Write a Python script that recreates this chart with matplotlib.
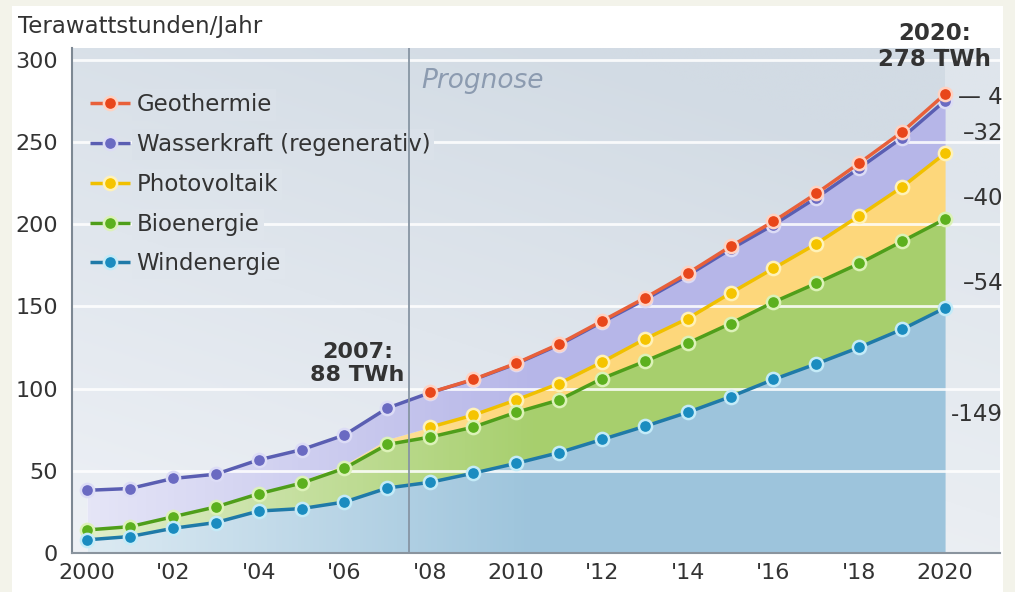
import numpy as np
import matplotlib
matplotlib.use("Agg")
import matplotlib.pyplot as plt
from matplotlib.colors import to_rgb
from matplotlib.patches import Rectangle, Polygon

# ---------------- data ----------------
years = list(range(2000, 2021))
wind = [8, 10, 15, 18.5, 25.5, 27, 31, 39.5, 43, 48.5, 54.5, 61, 69, 77, 85.5, 95, 105.5, 115, 125, 136, 149]
bio = [6, 6, 7, 9.5, 10.5, 15.5, 20.5, 26.5, 27.5, 28, 31, 32, 37, 39.5, 42, 44.5, 47, 49, 51, 53.5, 54]
pv = [0.1, 0.2, 0.3, 0.4, 0.6, 1.3, 2.2, 3.1, 6, 7.3, 7.5, 10, 10, 13.5, 15, 18.5, 20.5, 24, 29, 33, 40]
hydro = [24, 23, 23, 19.5, 20, 19, 18, 19, 21, 21.5, 22, 23.5, 24.3, 24, 26.2, 26.7, 26.5, 28, 29, 30, 32]
geo = [0, 0, 0, 0, 0, 0, 0, 0, 0.1, 0.2, 0.3, 0.5, 0.7, 1.0, 1.3, 1.7, 2.1, 2.6, 3.0, 3.5, 4]

series_names = ["Windenergie", "Bioenergie", "Photovoltaik", "Wasserkraft (regenerativ)", "Geothermie"]
xtick_years = [2000, 2002, 2004, 2006, 2008, 2010, 2012, 2014, 2016, 2018, 2020]
xtick_labels = ["2000", "'02", "'04", "'06", "'08", "2010", "'12", "'14", "'16", "'18", "2020"]
yticks = [0, 50, 100, 150, 200, 250, 300]
final_values = [149, 54, 40, 32, 4]   # labels at right (wind, bio, pv, hydro, geo)
total_2007 = 88
total_2020 = 278
forecast_start = 2007.5
first_line_year = [2000, 2000, 2008, 2000, 2008]   # first year each line is drawn

# ---------------- styling ----------------
fill_colors = ["#9dc4dc", "#a7cf6d", "#fdd77b", "#b6b6e8", None]
line_colors = ["#1f7aa8", "#4f9e1a", "#f0c000", "#5a5eb2", "#e8603a"]
marker_colors = ["#1a8cc0", "#5cb01e", "#f5c400", "#6a6ac2", "#e8461a"]
halo_colors = ["#c4ebf8", "#dcf2b8", "#fff2b8", "#dcdcf6", "#ffd2c2"]
zorders = [5.0, 4.5, 4.0, 3.0, 3.5]
txt_col = "#333333"
c_top = np.array(to_rgb("#d2dbe4"))
c_bot = np.array(to_rgb("#eef1f6"))


def bg_color(xf, yf):
    t = np.clip(0.75 * yf + 0.45 * xf, 0, 1)
    return c_bot * (1 - t)[..., None] + c_top * t[..., None] if np.ndim(t) else c_bot * (1 - t) + c_top * t


fig = plt.figure(figsize=(10.15, 5.92), dpi=100)
fig.patch.set_facecolor("#f3f3ea")
fig.patches.append(Rectangle((12 / 1015, 0), (1003 - 12) / 1015, 1 - 6 / 592,
                             transform=fig.transFigure, facecolor="white",
                             edgecolor="none", zorder=-5))

ax = fig.add_axes([72 / 1015, 39 / 592, 928 / 1015, 505 / 592])
ax.set_zorder(1)
xmin, xmax, ymin, ymax = 1999.65, 2021.28, 0, 307

# background gradient
H, W = 200, 400
yy = np.linspace(0, 1, H)[:, None] * np.ones((1, W))
xx = np.linspace(0, 1, W)[None, :] * np.ones((H, 1))
bg = bg_color(xx, yy)
ax.imshow(bg, extent=[xmin, xmax, ymin, ymax], origin="lower", aspect="auto", zorder=0)
ax.axvspan(2020, xmax, color="white", alpha=0.3, lw=0, zorder=0.5)

# stacked fills
stack = [wind, bio, pv, hydro, geo]
base = np.zeros(len(years))
tops = []
for vals, fc in zip(stack, fill_colors):
    top = base + np.array(vals, dtype=float)
    if fc is not None:
        ax.fill_between(years, base, top, color=fc, lw=0, zorder=1)
    tops.append(top)
    base = top

# whitish overlay on the historical part of the stack
ov = np.ones((2, 300, 4))
xs = np.linspace(xmin, xmax, 300)
ov[..., 3] = np.clip(0.65 * (2010.5 - xs) / (2010.5 - 2000), 0, 0.7)[None, :]
ov_im = ax.imshow(ov, extent=[xmin, xmax, ymin, ymax], origin="lower", aspect="auto", zorder=1.5)
poly_pts = [(y, 0) for y in years] + [(y, v) for y, v in zip(years[::-1], tops[3][::-1])]
clip_poly = Polygon(poly_pts, closed=True, transform=ax.transData, facecolor="none", edgecolor="none")
ax.add_patch(clip_poly)
ov_im.set_clip_path(clip_poly)

# grid lines
for yv in yticks[1:]:
    ax.axhline(yv, color="white", lw=2, alpha=0.85, zorder=2)

# lines with markers
handles = []
yrs_all = np.array(years)
for i, (name, top) in enumerate(zip(series_names, tops)):
    mask = yrs_all >= first_line_year[i]
    h, = ax.plot(yrs_all[mask], top[mask], color=line_colors[i], lw=2.5, marker="o", ms=9.5,
                 mfc=marker_colors[i], mec=halo_colors[i], mew=1.8, zorder=zorders[i],
                 label=name, solid_capstyle="butt")
    handles.append(h)

leg = ax.legend(handles[::-1], series_names[::-1], loc="upper left",
                bbox_to_anchor=(0.019, 0.91), frameon=False, fontsize=16.5,
                handlelength=1.75, handletextpad=0.3, labelspacing=0.73,
                borderaxespad=0, borderpad=0)
leg.set_zorder(5.2)

# forecast separator (drawn above legend text boxes)
ax.axvline(forecast_start, color="#8795a3", lw=1.3, zorder=5.5)

# axes formatting
ax.set_xlim(xmin, xmax)
ax.set_ylim(ymin, ymax)
ax.set_xticks(xtick_years)
ax.set_xticklabels(xtick_labels)
ax.set_yticks(yticks)
ax.set_yticklabels([str(v) for v in yticks])
ax.tick_params(axis="both", length=0, labelsize=16, colors=txt_col)
ax.tick_params(axis="x", pad=7)
ax.tick_params(axis="y", pad=10)
for s in ["top", "right"]:
    ax.spines[s].set_visible(False)
ax.spines["left"].set_color("#7d8893")
ax.spines["left"].set_linewidth(1.5)
ax.spines["bottom"].set_color("#8a949e")
ax.spines["bottom"].set_linewidth(1.5)

# legend texts hide grid lines behind them, using the local background colour
fig.canvas.draw()
inv = ax.transAxes.inverted()
for tx in leg.get_texts():
    tx.set_color(txt_col)
    bb = tx.get_window_extent()
    (x0, y0), (x1, y1) = inv.transform([(bb.x0, bb.y0), (bb.x1, bb.y1)])
    col = bg_color(np.array((x0 + x1) / 2), np.array((y0 + y1) / 2))
    tx.set_bbox(dict(facecolor=tuple(col), edgecolor="none", pad=3))

fig.text(18 / 1015, 1 - 27 / 592, "Terawattstunden/Jahr", fontsize=16.5,
         va="center", ha="left", color=txt_col)

ax.text(2007.8, 287, "Prognose", style="italic", color="#8c9bb0", fontsize=19, va="center")

ax.text(2006.3, 115, f"2007:\n{total_2007} TWh", fontsize=16, fontweight="bold",
        ha="center", va="center", color=txt_col, linespacing=1.2, zorder=6)
ax.text(2019.75, 308, f"2020:\n{total_2020} TWh", fontsize=16.5, fontweight="bold",
        ha="center", va="center", color=txt_col, linespacing=1.2, zorder=6, clip_on=False)

# right-side value labels
label_y = [84, 164, 215.5, 255, 277]
label_fmt = ["-{}", "\u2013{}", "\u2013{}", "\u2013{}", "\u2014 {}"]
for v, ly, fm in zip(final_values, label_y, label_fmt):
    ax.text(2021.35, ly, fm.format(v), fontsize=16.5, ha="right", va="center",
            color=txt_col, clip_on=False, zorder=6)

fig.savefig("out.png", dpi=100, facecolor=fig.get_facecolor())
